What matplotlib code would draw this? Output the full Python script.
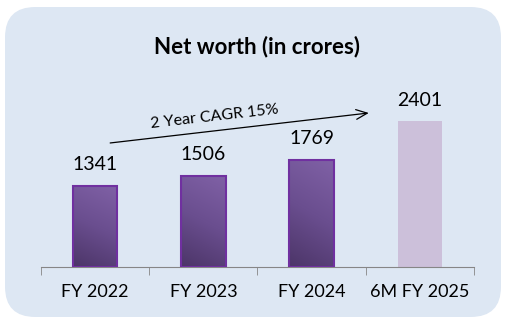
import numpy as np
import matplotlib.pyplot as plt
from matplotlib.patches import FancyBboxPatch

# データ
categories = ['FY 2022', 'FY 2023', 'FY 2024', '6M FY 2025']
values = [1341, 1506, 1769, 2401]
cagr_text = '2 Year CAGR 15%'

plt.rcParams['font.family'] = ['Lato', 'DejaVu Sans']

W, H = 506, 322
fig = plt.figure(figsize=(W / 100, H / 100), dpi=100)
fig.patch.set_facecolor('white')

# 背景の角丸ボックス
box = FancyBboxPatch((5 / W, 5 / H), 496 / W, 310 / H,
                     boxstyle='round,pad=0,rounding_size=0.06',
                     transform=fig.transFigure, facecolor='#dde7f3',
                     edgecolor='none', mutation_aspect=W / H, zorder=-1)
fig.patches.append(box)

fig.text(257 / W, 1 - 47 / H, 'Net worth (in crores)', ha='center', va='center',
         fontsize=16, fontweight='bold')

ax = fig.add_axes([41 / W, 55 / H, 433 / W, 197 / H])
ax.set_facecolor('none')
x = np.arange(len(categories))

bw = 0.41
bars = ax.bar(x[:3], values[:3], width=bw, color='#6a4a8e',
              edgecolor='#7030a0', linewidth=1.5, zorder=2)
ax.bar(x[3], values[3], width=bw, color='#ccc0da', zorder=2)

# グラデーション（下が濃く、上が明るい）
gx, gy = np.meshgrid(np.linspace(0, 1, 50), np.linspace(0, 1, 100))
g = 0.8 * gy + 0.2 * gx
cmap = plt.matplotlib.colors.LinearSegmentedColormap.from_list(
    'p', ['#4c3568', '#6a4e8f', '#8061a6'])
for b in bars:
    x0, y0 = b.get_x(), b.get_y()
    im = ax.imshow(g, cmap=cmap, extent=[x0, x0 + b.get_width(), y0, y0 + b.get_height()],
                   origin='lower', aspect='auto', zorder=2.5)
    im.set_clip_path(b)
    b.set_zorder(3)
    b.set_facecolor('none')
ax.set_xlim(-0.5, len(categories) - 0.5)
ax.set_ylim(0, 3245)

for xi, v in zip(x, values):
    ax.annotate(str(v), (xi, v), xytext=(0, 15), textcoords='offset points',
                ha='center', va='center', fontsize=14)

# 矢印
ax.annotate('', xy=(2.528, 2537), xytext=(0.139, 2043),
            arrowprops=dict(arrowstyle='->,head_length=0.8,head_width=0.35',
                            color='black', lw=0.9, shrinkA=0, shrinkB=0))
ax.text(1.10, 2471, cagr_text, ha='center', va='center', fontsize=11.5,
        rotation=6.5, rotation_mode='anchor')

for s in ['top', 'right', 'left']:
    ax.spines[s].set_visible(False)
ax.spines['bottom'].set_color('#868686')
ax.set_yticks([])
ax.set_xticks(x)
ax.set_xticklabels(categories, fontsize=13)
ax.tick_params(axis='x', which='major', length=0, pad=12.5)
ax.set_xticks(np.arange(-0.5, len(categories)), minor=True)
ax.tick_params(axis='x', which='minor', length=6, color='#868686', direction='out')

fig.savefig('out.png', dpi=100)
